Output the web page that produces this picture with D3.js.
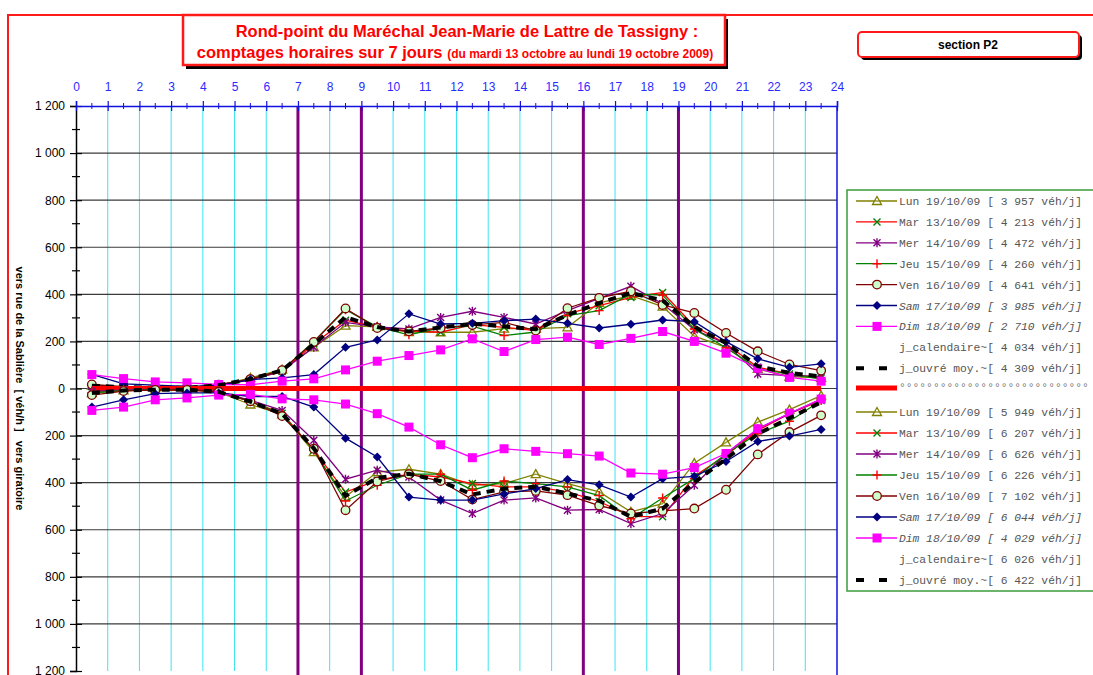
<!DOCTYPE html>
<html>
<head>
<meta charset="utf-8">
<script src="https://cdn.jsdelivr.net/npm/d3@7"></script>
<style>
  body { margin: 0; background: #fff; }
  svg { display: block; font-family: "Liberation Sans", Arial, sans-serif; }
  .mono { font-family: "Liberation Mono", "Courier New", monospace; }
</style>
</head>
<body>
<svg id="chart" width="1093" height="675"></svg>
<script>
// Hourly slots (counts are centred on each half hour)
const hours = [0.5, 1.5, 2.5, 3.5, 4.5, 5.5, 6.5, 7.5, 8.5, 9.5, 10.5, 11.5,
               12.5, 13.5, 14.5, 15.5, 16.5, 17.5, 18.5, 19.5, 20.5, 21.5, 22.5, 23.5];
const hourTicks = [0, 1, 2, 3, 4, 5, 6, 7, 8, 9, 10, 11, 12, 13, 14, 15, 16, 17, 18, 19, 20, 21, 22, 23, 24];
const valueTicks = [-1200, -1000, -800, -600, -400, -200, 0, 200, 400, 600, 800, 1000, 1200];
const peakHours = [7, 9, 16, 19];

// Direction "vers rue de la Sablière" (veh/h)
const lunSab = [12, 5, 3, 3, 12, 45, 80, 175, 267, 262, 240, 239, 239, 254, 254, 260, 364, 394, 348, 222, 175, 83, 51, 45];
const marSab = [8, 5, 3, 4, 14, 38, 72, 190, 290, 260, 245, 239, 271, 260, 246, 318, 352, 387, 408, 265, 190, 90, 62, 45];
const merSab = [10, 4, 2, 3, 16, 36, 75, 175, 281, 262, 253, 302, 328, 302, 274, 331, 383, 434, 360, 250, 190, 62, 55, 51];
const jeuSab = [14, 6, 3, 3, 14, 40, 78, 200, 335, 262, 228, 258, 265, 225, 240, 310, 331, 402, 397, 253, 173, 83, 62, 40];
const venSab = [17, 8, 4, 4, 16, 40, 78, 198, 340, 257, 243, 257, 270, 281, 246, 341, 385, 413, 355, 321, 236, 158, 102, 76];
const samSab = [60, 20, 14, 9, 12, 38, 45, 59, 175, 206, 317, 274, 277, 288, 295, 277, 257, 273, 291, 284, 199, 126, 90, 105];
const dimSab = [59, 42, 28, 24, 17, 16, 31, 41, 79, 116, 140, 164, 211, 157, 208, 218, 187, 213, 242, 200, 150, 86, 47, 31];
const moySab = [12, 6, 3, 3, 14, 40, 77, 188, 303, 261, 242, 259, 275, 264, 252, 312, 363, 406, 374, 262, 193, 95, 66, 51];

// Direction "vers giratoire" (veh/h)
const lunGir = [20, 8, 5, 5, 15, 68, 110, 270, 460, 355, 343, 364, 411, 404, 364, 404, 439, 524, 489, 317, 229, 143, 90, 30];
const marGir = [15, 8, 5, 5, 15, 55, 105, 262, 440, 390, 364, 376, 404, 418, 418, 439, 480, 543, 545, 373, 284, 178, 107, 51];
const merGir = [12, 6, 4, 4, 12, 50, 93, 220, 385, 347, 376, 474, 531, 474, 465, 517, 514, 574, 531, 411, 277, 171, 107, 45];
const jeuGir = [18, 9, 5, 5, 14, 55, 110, 262, 478, 411, 364, 364, 432, 393, 404, 418, 455, 553, 465, 383, 277, 192, 139, 51];
const venGir = [28, 11, 6, 6, 14, 54, 117, 256, 517, 395, 364, 393, 472, 439, 435, 453, 497, 531, 520, 510, 430, 280, 185, 114];
const samGir = [79, 48, 22, 19, 19, 34, 34, 79, 211, 291, 461, 474, 474, 448, 425, 387, 409, 461, 383, 373, 310, 225, 202, 174];
const dimGir = [93, 79, 48, 40, 28, 25, 44, 48, 66, 107, 164, 239, 294, 256, 267, 277, 287, 359, 364, 336, 276, 171, 105, 45];
const moyGir = [19, 8, 5, 5, 14, 56, 107, 254, 456, 380, 362, 394, 450, 426, 417, 446, 477, 545, 510, 399, 299, 193, 126, 58];

const sabLabels = [
  "Lun 19/10/09 [ 3 957 véh/j]", "Mar 13/10/09 [ 4 213 véh/j]", "Mer 14/10/09 [ 4 472 véh/j]",
  "Jeu 15/10/09 [ 4 260 véh/j]", "Ven 16/10/09 [ 4 641 véh/j]", "Sam 17/10/09 [ 3 985 véh/j]",
  "Dim 18/10/09 [ 2 710 véh/j]", "j_calendaire~[ 4 034 véh/j]", "j_ouvré moy.~[ 4 309 véh/j]"];
const girLabels = [
  "Lun 19/10/09 [ 5 949 véh/j]", "Mar 13/10/09 [ 6 207 véh/j]", "Mer 14/10/09 [ 6 626 véh/j]",
  "Jeu 15/10/09 [ 6 226 véh/j]", "Ven 16/10/09 [ 7 102 véh/j]", "Sam 17/10/09 [ 6 044 véh/j]",
  "Dim 18/10/09 [ 4 029 véh/j]", "j_calendaire~[ 6 026 véh/j]", "j_ouvré moy.~[ 6 422 véh/j]"];

// Series styles: line colour, marker kind, marker colour
const styles = [
  { line: "#808000", marker: "triangle", mc: "#808000" },
  { line: "#ff0000", marker: "x", mc: "#008000" },
  { line: "#800080", marker: "star", mc: "#800080" },
  { line: "#008000", marker: "plus", mc: "#ff0000" },
  { line: "#800000", marker: "circle", mc: "#800000" },
  { line: "#000080", marker: "diamond", mc: "#000080" },
  { line: "#ff00ff", marker: "square", mc: "#ff00ff" },
  { line: "none", marker: "none", mc: "none" },
  { line: "#000000", marker: "none", mc: "none", dashed: true }
];

const svg = d3.select("#chart");
const x = d3.scaleLinear().domain([0, 24]).range([76, 837]);
const y = d3.scaleLinear().domain([-1200, 1200]).range([671, 106]);

// ---- outer frame (top and left edges) ----
svg.append("path").attr("d", "M8,675 L8,15 L1093,15")
  .attr("fill", "none").attr("stroke", "#ff1a1a").attr("stroke-width", 2);

// ---- title box ----
svg.append("rect").attr("x", 186).attr("y", 19).attr("width", 542).attr("height", 50).attr("fill", "#000");
svg.append("rect").attr("x", 183).attr("y", 15).attr("width", 542).attr("height", 50)
  .attr("fill", "#fff").attr("stroke", "#ff1a1a").attr("stroke-width", 2.5);
svg.append("text").attr("x", 467).attr("y", 37).attr("text-anchor", "middle")
  .attr("font-size", 16.5).attr("font-weight", "bold").attr("fill", "#ff0000")
  .text("Rond-point du Maréchal Jean-Marie de Lattre de Tassigny :");
const t2 = svg.append("text").attr("x", 455).attr("y", 58).attr("text-anchor", "middle")
  .attr("font-weight", "bold").attr("fill", "#ff0000");
t2.append("tspan").attr("font-size", 16.5).text("comptages horaires sur 7 jours ");
t2.append("tspan").attr("font-size", 12).text("(du mardi 13 octobre au lundi 19 octobre 2009)");

// ---- section box ----
svg.append("rect").attr("x", 861).attr("y", 35).attr("width", 221).attr("height", 25).attr("rx", 4).attr("fill", "#000");
svg.append("rect").attr("x", 858).attr("y", 32).attr("width", 221).attr("height", 25).attr("rx", 4)
  .attr("fill", "#fff").attr("stroke", "#ff1a1a").attr("stroke-width", 2);
svg.append("text").attr("x", 968).attr("y", 49).attr("text-anchor", "middle")
  .attr("font-size", 12).attr("font-weight", "bold").attr("fill", "#000").text("section P2");

// ---- grid ----
const grid = svg.append("g");
grid.selectAll("line.v").data(hourTicks.filter(h => h > 0 && h < 24)).join("line")
  .attr("x1", d => x(d)).attr("x2", d => x(d)).attr("y1", y(1200)).attr("y2", y(-1200))
  .attr("stroke", "#3be6f2").attr("stroke-width", 1);
grid.selectAll("line.h").data(valueTicks.filter(v => Math.abs(v) < 1200)).join("line")
  .attr("x1", x(0)).attr("x2", x(24)).attr("y1", d => y(d)).attr("y2", d => y(d))
  .attr("stroke", "#3a3a3a").attr("stroke-width", 1.2);
grid.selectAll("line.p").data(peakHours).join("line")
  .attr("x1", d => x(d)).attr("x2", d => x(d)).attr("y1", y(1200)).attr("y2", 675)
  .attr("stroke", "#800080").attr("stroke-width", 3);
// right edge of plot
grid.append("line").attr("x1", x(24)).attr("x2", x(24)).attr("y1", y(1200)).attr("y2", 675)
  .attr("stroke", "#1010e0").attr("stroke-width", 1.5);

// ---- axes ----
const fmt = v => d3.format(",")(Math.abs(v)).replace(/,/g, " ");
const yAxis = svg.append("g").attr("transform", `translate(${x(0)},0)`)
  .call(d3.axisLeft(y).tickValues(valueTicks).tickFormat(fmt).tickSize(6).tickPadding(5));
yAxis.attr("font-family", null).attr("font-size", null);
yAxis.select(".domain").attr("stroke", "#000").attr("stroke-width", 1.5);
yAxis.selectAll(".tick line").attr("stroke", "#000").attr("stroke-width", 1.2).attr("x2", 6).attr("x1", -6);
yAxis.selectAll(".tick text").attr("font-size", 12).attr("fill", "#000");
const yMinor = valueTicks.slice(0, -1).map(v => v + 100);
svg.append("g").selectAll("line").data(yMinor).join("line")
  .attr("x1", x(0) - 4).attr("x2", x(0) + 4).attr("y1", d => y(d)).attr("y2", d => y(d))
  .attr("stroke", "#000").attr("stroke-width", 1.2);

const xAxis = svg.append("g").attr("transform", `translate(0,${y(1200)})`)
  .call(d3.axisTop(x).tickValues(hourTicks).tickFormat(d3.format("d")).tickSize(5).tickPadding(10));
xAxis.attr("font-family", null).attr("font-size", null);
xAxis.select(".domain").attr("stroke", "#1010e0").attr("stroke-width", 1.5);
xAxis.selectAll(".tick line").attr("stroke", "#1010e0").attr("stroke-width", 1.2).attr("y1", 5);
xAxis.selectAll(".tick text").attr("font-size", 12).attr("fill", "#2a2aff");
svg.append("g").selectAll("line").data(hours).join("line")
  .attr("x1", d => x(d)).attr("x2", d => x(d)).attr("y1", y(1200) - 3).attr("y2", y(1200) + 3)
  .attr("stroke", "#1010e0").attr("stroke-width", 1);

// ---- vertical axis title ----
svg.append("text").attr("transform", `translate(16,${y(0)}) rotate(90)`)
  .attr("text-anchor", "middle").attr("font-size", 11).attr("font-weight", "bold")
  .style("white-space", "pre")
  .text("vers rue de la Sablière  [ véh/h ]   vers giratoire");

// ---- markers ----
function drawMarker(g, kind, color, cx, cy) {
  if (kind === "triangle") {
    g.append("path").attr("d", `M${cx},${cy - 4.5} L${cx + 4.5},${cy + 3.5} L${cx - 4.5},${cy + 3.5} Z`)
      .attr("fill", "#fff").attr("fill-opacity", 0.2).attr("stroke", color).attr("stroke-width", 1.3);
  } else if (kind === "x") {
    g.append("path").attr("d", `M${cx - 3.5},${cy - 3.5} L${cx + 3.5},${cy + 3.5} M${cx - 3.5},${cy + 3.5} L${cx + 3.5},${cy - 3.5}`)
      .attr("stroke", color).attr("stroke-width", 1.4);
  } else if (kind === "star") {
    g.append("path").attr("d", `M${cx - 3.5},${cy - 3.5} L${cx + 3.5},${cy + 3.5} M${cx - 3.5},${cy + 3.5} L${cx + 3.5},${cy - 3.5} M${cx},${cy - 4.5} L${cx},${cy + 4.5}`)
      .attr("stroke", color).attr("stroke-width", 1.4);
  } else if (kind === "plus") {
    g.append("path").attr("d", `M${cx - 4.5},${cy} L${cx + 4.5},${cy} M${cx},${cy - 4.5} L${cx},${cy + 4.5}`)
      .attr("stroke", color).attr("stroke-width", 1.4);
  } else if (kind === "circle") {
    g.append("circle").attr("cx", cx).attr("cy", cy).attr("r", 4.3)
      .attr("fill", "#ccffcc").attr("stroke", color).attr("stroke-width", 1.3);
  } else if (kind === "diamond") {
    g.append("path").attr("d", `M${cx},${cy - 4.5} L${cx + 4.5},${cy} L${cx},${cy + 4.5} L${cx - 4.5},${cy} Z`)
      .attr("fill", color);
  } else if (kind === "square") {
    g.append("rect").attr("x", cx - 4.5).attr("y", cy - 4.5).attr("width", 9).attr("height", 9).attr("fill", color);
  }
}

const line = d3.line().x((d, i) => x(hours[i])).y(d => y(d));

function drawGroup(seriesList) {
  const g = svg.append("g");
  seriesList.forEach((vals, k) => {
    const st = styles[k];
    if (st.line === "none") return;
    g.append("path").datum(vals).attr("d", line).attr("fill", "none")
      .attr("stroke", st.line)
      .attr("stroke-width", st.dashed ? 4 : 1.3)
      .attr("stroke-dasharray", st.dashed ? "8,6" : null);
    if (st.marker !== "none") {
      vals.forEach((v, i) => drawMarker(g, st.marker, st.mc, x(hours[i]), y(v)));
    }
  });
}

const sabSeries = [lunSab, marSab, merSab, jeuSab, venSab, samSab, dimSab, [], moySab];
const girSeries = [lunGir, marGir, merGir, jeuGir, venGir, samGir, dimGir, [], moyGir].map(s => s.map(v => -v));

drawGroup(sabSeries);
// zero separation line
svg.append("line").attr("x1", x(hours[0])).attr("x2", x(hours[hours.length - 1]))
  .attr("y1", y(0)).attr("y2", y(0)).attr("stroke", "#ff0000").attr("stroke-width", 5);
drawGroup(girSeries);

// ---- legend ----
const lg = svg.append("g");
lg.append("rect").attr("x", 847).attr("y", 190).attr("width", 260).attr("height", 401)
  .attr("fill", "#fff").attr("stroke", "#3c9c3c").attr("stroke-width", 1.5);

function legendRow(yy, st, label, italic) {
  if (st.line !== "none") {
    lg.append("line").attr("x1", 856).attr("x2", 897).attr("y1", yy).attr("y2", yy)
      .attr("stroke", st.line)
      .attr("stroke-width", st.dashed ? 4 : 1.3)
      .attr("stroke-dasharray", st.dashed ? "8,15" : null);
  }
  if (st.marker !== "none") drawMarker(lg, st.marker, st.mc, 877, yy);
  lg.append("text").attr("class", "mono").attr("x", 899).attr("y", yy + 4)
    .attr("font-size", 11.3).attr("fill", "#555")
    .attr("font-style", italic ? "italic" : "normal")
    .style("white-space", "pre").text(label);
}
sabLabels.forEach((lab, i) => legendRow(201 + i * 20.9, styles[i], lab, i === 5 || i === 6));
// zero-line legend row
lg.append("line").attr("x1", 856).attr("x2", 897).attr("y1", 388).attr("y2", 388)
  .attr("stroke", "#ff0000").attr("stroke-width", 5);
lg.append("text").attr("class", "mono").attr("x", 899).attr("y", 391)
  .attr("font-size", 11.3).attr("fill", "#777").text("°".repeat(28));
girLabels.forEach((lab, i) => legendRow(412 + i * 21, styles[i], lab, i === 5 || i === 6));
</script>
</body>
</html>
